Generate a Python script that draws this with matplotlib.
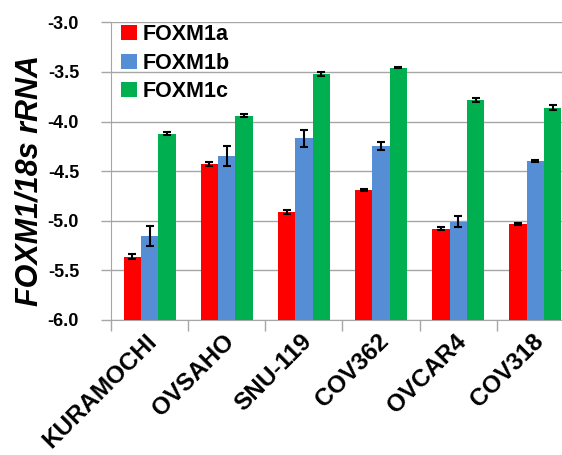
import numpy as np
import matplotlib
matplotlib.use("Agg")
import matplotlib.pyplot as plt

plt.rcParams["font.family"] = ["Liberation Sans", "DejaVu Sans"]
plt.rcParams["font.weight"] = "bold"

cell_lines = ["KURAMOCHI", "OVSAHO", "SNU-119", "COV362", "OVCAR4", "COV318"]
series = ["FOXM1a", "FOXM1b", "FOXM1c"]
foxm1a = [-5.36, -4.43, -4.91, -4.69, -5.08, -5.035]
foxm1b = [-5.15, -4.35, -4.17, -4.25, -5.01, -4.40]
foxm1c = [-4.12, -3.94, -3.52, -3.455, -3.78, -3.86]
err_a = [0.03, 0.02, 0.02, 0.01, 0.015, 0.008]
err_b = [0.10, 0.10, 0.09, 0.04, 0.055, 0.008]
err_c = [0.02, 0.015, 0.02, 0.008, 0.02, 0.025]
colors = ["#FF0000", "#558ED5", "#00B050"]

base = -6.0
W, H = 562, 455
fig = plt.figure(figsize=(W / 100, H / 100), dpi=100)
ax = fig.add_axes([111 / W, 1 - 320 / H, (574 - 111) / W, (320 - 22.4) / H])

x = np.arange(len(cell_lines))
bw = 0.225
for k, (vals, errs) in enumerate(zip([foxm1a, foxm1b, foxm1c], [err_a, err_b, err_c])):
    vals = np.array(vals)
    ax.bar(x + (k - 1) * bw, vals - base, bw, bottom=base, color=colors[k],
           label=series[k], zorder=3)
    ax.errorbar(x + (k - 1) * bw, vals, yerr=errs, fmt="none", ecolor="black",
                elinewidth=1.5, capsize=3, capthick=1.5, zorder=4)

ax.set_ylim(-6.0, -3.0)
ax.set_xlim(-0.5, len(cell_lines) - 0.5)
yt = np.arange(-6.0, -2.99, 0.5)
ax.set_yticks(yt)
ax.set_yticklabels([f"{v:.1f}" for v in yt], fontsize=13, fontweight="bold")
ax.yaxis.grid(True, color="#A6A6A6", linewidth=1, zorder=0)
ax.set_axisbelow(True)

ax.set_xticks(np.arange(-0.5, len(cell_lines), 1.0))
ax.set_xticklabels([])
ax.tick_params(axis="x", length=8, color="#A6A6A6", width=1)
ax.tick_params(axis="y", length=7, color="#A6A6A6", width=1, pad=16)
for i, name in enumerate(cell_lines):
    ax.text(i - 0.05, -6.1, name, rotation=45, ha="right", va="top",
            rotation_mode="anchor", fontsize=17.5, fontweight="bold")

for s in ["top", "right"]:
    ax.spines[s].set_visible(False)
ax.spines["left"].set_color("#A6A6A6")
ax.spines["bottom"].set_color("#A6A6A6")

fig.text(30 / W, 1 - 181 / H, "FOXM1/18s rRNA", rotation=90, ha="center", va="center",
         fontsize=22, fontweight="bold", style="italic")

ax.legend(loc="upper left", bbox_to_anchor=(-0.01, 1.045), frameon=False, fontsize=15.5,
          handlelength=0.7, handleheight=0.7, handletextpad=0.3, labelspacing=0.35,
          borderaxespad=0.3)

fig.savefig("out.png", dpi=100)
